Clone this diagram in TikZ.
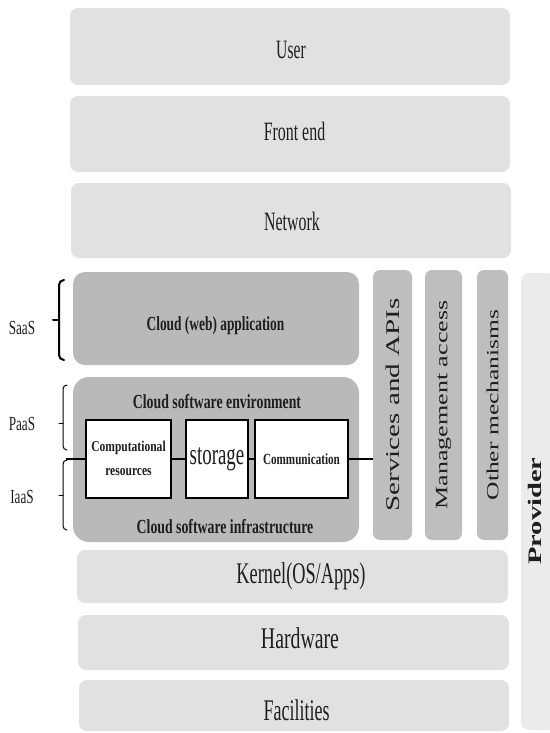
\documentclass[tikz,border=0pt]{standalone}
\usepackage{fontspec}
\setmainfont{Liberation Serif}
\usepackage{graphicx}
\definecolor{lightg}{HTML}{E1E1E1}
\definecolor{darkg}{HTML}{B9B9B9}
\definecolor{vertg}{HTML}{BEBEBE}
\definecolor{provg}{HTML}{EBEBEB}
\definecolor{inkc}{HTML}{1E1E1E}
\newcommand{\htxt}[3]{\scalebox{#2}[1]{\fontsize{#1}{#1}\selectfont #3}}
\newcommand{\vtxt}[3]{\scalebox{1}[#2]{\fontsize{#1}{#1}\selectfont #3}}
\begin{document}
\begin{tikzpicture}[x=1pt,y=-1pt,
  lbox/.style={draw=none,fill=lightg,rounded corners=8pt,inner sep=0pt},
  dbox/.style={draw=none,fill=darkg,inner sep=0pt},
  vbox/.style={draw=none,fill=vertg,rounded corners=7pt,inner sep=0pt,rotate=90,text=inkc},
  wbox/.style={draw=black,line width=2pt,fill=white,inner sep=0pt,text=inkc},
  lbl/.style={anchor=base,inner sep=0pt,text=inkc},
  brk/.style={draw=black,line cap=round},
  conn/.style={draw=black,line width=1.2pt}]
\useasboundingbox (0,0) rectangle (549,733);
% top layers
\node[lbox,minimum width=440pt,minimum height=77pt] (user) at (290,46.5) {};
\node[lbox,minimum width=440pt,minimum height=76pt] (front) at (290,134) {};
\node[lbox,minimum width=440pt,minimum height=75pt] (net) at (291,220.5) {};
\node[lbl] (tuser) at (291,59) {\htxt{26.5}{0.59}{User}};
\node[lbl] (tfront) at (294.5,140) {\htxt{26.5}{0.6}{Front end}};
\node[lbl] (tnet) at (292,230) {\htxt{26.5}{0.6}{Network}};
% cloud boxes
\node[dbox,rounded corners=12pt,minimum width=286pt,minimum height=93pt] (saas) at (216,318.5) {};
\node[dbox,rounded corners=16pt,minimum width=286pt,minimum height=165pt] (cloud) at (216,459.5) {};
\node[lbl] (tsaas) at (215.5,330) {\htxt{20}{0.67}{\bfseries Cloud (web) application}};
\node[lbl] (tenv) at (217,408) {\htxt{20}{0.69}{\bfseries Cloud software environment}};
\node[lbl] (tinfra) at (225,533) {\htxt{20}{0.69}{\bfseries Cloud software infrastructure}};
% white boxes
\node[wbox,minimum width=85pt,minimum height=78pt] (comp) at (128.5,459) {\scalebox{0.77}[1]{\fontsize{15}{24}\selectfont\bfseries\begin{tabular}{@{}c@{}}Computational\\resources\end{tabular}}};
\node[wbox,minimum width=62pt,minimum height=78pt] (stor) at (217,459) {\scalebox{0.63}[1]{\fontsize{30}{30}\selectfont storage}};
\node[wbox,minimum width=93pt,minimum height=78pt] (comm) at (301.5,459) {\scalebox{0.72}[1]{\fontsize{15.5}{15.5}\selectfont\bfseries Communication}};
% vertical boxes
\node[vbox,minimum width=270pt,minimum height=39pt] (svc) at (392.5,405) {\vtxt{29}{0.67}{Services and APIs}};
\node[vbox,minimum width=270pt,minimum height=37pt] (mgmt) at (443.5,405) {\vtxt{26}{0.67}{Management access}};
\node[vbox,minimum width=270pt,minimum height=31pt] (oth) at (492.5,405) {\vtxt{25.5}{0.67}{Other mechanisms}};
\node[draw=none,fill=provg,rounded corners=8pt,inner sep=0pt,minimum width=35pt,minimum height=457pt] (prov) at (538.5,501.5) {};
\node[rotate=90,inner sep=0pt,text=inkc] (tprov) at (535,511) {\vtxt{28.5}{0.67}{\bfseries Provider}};
% bottom layers
\node[lbox,minimum width=431pt,minimum height=53pt] (kern) at (292.5,576.5) {};
\node[lbox,minimum width=431pt,minimum height=55pt] (hw) at (293.5,642.5) {};
\node[lbox,minimum width=430pt,minimum height=51pt] (fac) at (294,705.5) {};
\node[lbl] (tkern) at (301,583) {\htxt{30}{0.61}{Kernel(OS/Apps)}};
\node[lbl] (thw) at (300,648) {\htxt{30}{0.66}{Hardware}};
\node[lbl] (tfac) at (296.5,720) {\htxt{30}{0.6}{Facilities}};
% side labels
\node[lbl] (lsaas) at (22,334) {\htxt{20}{0.66}{SaaS}};
\node[lbl] (lpaas) at (22,430) {\htxt{20}{0.66}{PaaS}};
\node[lbl] (liaas) at (22,503) {\htxt{20}{0.66}{IaaS}};
% brackets
\draw[brk,line width=2pt] (64,280) to[out=180,in=90] (59,285) -- (59,355) to[out=-90,in=180] (64,360);
\draw[brk,line width=2pt] (59,320) -- (53,320);
\draw[brk,line width=1pt] (67,385) to[out=180,in=90] (63,389) -- (63,446) to[out=-90,in=180] (67,450);
\draw[brk,line width=1pt] (63,423) -- (59,423);
\draw[brk,line width=1pt] (67,460) to[out=180,in=90] (63,464) -- (63,526) to[out=-90,in=180] (67,530);
\draw[brk,line width=1pt] (63,495) -- (59,495);
% connectors
\coordinate (lstart) at (66,459);
\draw[conn] (lstart) -- (comp.west);
\draw[conn] (comp.east) -- (stor.west);
\draw[conn] (stor.east) -- (comm.west);
\draw[conn] (comm.east) -- (comm.east -| svc.north);
\end{tikzpicture}
\end{document}
